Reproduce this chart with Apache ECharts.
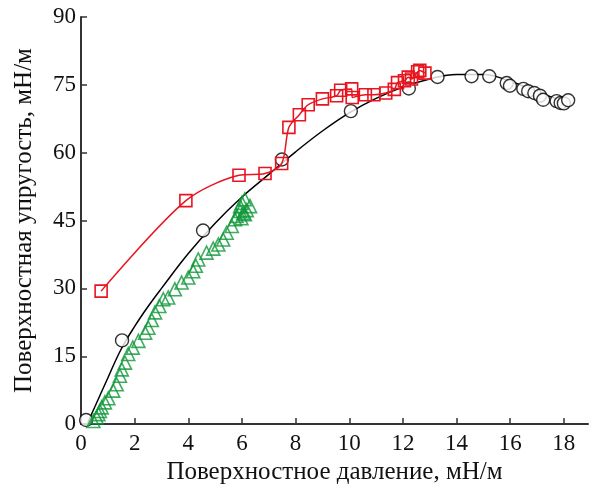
<!DOCTYPE html>
<html>
<head>
<meta charset="utf-8">
<script src="https://cdn.jsdelivr.net/npm/echarts@6/dist/echarts.min.js"></script>
<style>
  html, body { margin: 0; padding: 0; background: #fff; }
  #chart { width: 591px; height: 490px; }
</style>
</head>
<body>
<div id="chart"></div>
<script>
// Measured points: surface pressure (mN/m) vs surface elasticity (mN/m)
const blackX = [0.19, 1.53, 4.55, 7.49, 10.06, 12.22, 13.29, 14.56, 15.22, 15.87, 15.99, 16.49, 16.67, 16.9, 17.11, 17.23, 17.73, 17.88, 18.0, 18.16];
const blackY = [0.9, 18.5, 42.8, 58.5, 69.2, 74.2, 76.75, 76.9, 76.9, 75.4, 74.8, 74.1, 73.6, 73.2, 72.6, 71.7, 71.4, 71.0, 70.9, 71.6];

// Smooth trend drawn through the black points
const fitX = [0.25, 1.0, 1.5, 2.0, 2.5, 3.0, 4.0, 5.0, 6.0, 7.0, 8.0, 9.0, 10.0, 11.0, 12.0, 13.0, 14.0, 15.0, 16.0, 17.0, 18.0];
const fitY = [0.3, 10.2, 16.6, 21.6, 26.0, 30.0, 37.7, 44.4, 50.2, 55.2, 60.2, 64.8, 68.8, 72.0, 74.5, 76.3, 77.3, 77.3, 75.8, 73.5, 71.3];

const redX = [0.75, 3.91, 5.89, 6.86, 7.48, 7.75, 8.14, 8.47, 9.0, 9.53, 9.68, 10.09, 10.11, 10.6, 10.92, 11.36, 11.68, 11.8, 12.06, 12.2, 12.32, 12.55, 12.63, 12.82];
const redY = [29.4, 49.4, 55.0, 55.4, 57.6, 65.6, 68.4, 70.6, 71.9, 72.6, 73.8, 74.1, 72.2, 72.8, 72.8, 73.2, 74.0, 75.5, 75.9, 76.7, 76.3, 77.9, 78.2, 77.6];

const greenX = [0.46, 0.58, 0.65, 0.7, 0.77, 0.89, 1.02, 1.2, 1.33, 1.45, 1.52, 1.64, 1.76, 1.93, 2.14, 2.39, 2.51, 2.64, 2.76, 2.92, 3.07, 3.25, 3.5, 3.75, 4.0, 4.18, 4.28, 4.37, 4.68, 4.93, 5.12, 5.3, 5.43, 5.62, 5.74, 5.8, 5.93, 5.93, 5.98, 6.05, 6.11, 6.11, 6.18, 6.0, 6.3];
const greenY = [0.7, 1.5, 2.2, 2.9, 3.7, 4.8, 5.7, 7.4, 8.8, 10.7, 12.1, 13.6, 15.5, 16.9, 18.4, 20.2, 21.3, 23.0, 24.7, 26.1, 27.6, 28.0, 29.8, 31.3, 32.4, 33.8, 35.0, 36.4, 37.9, 38.8, 39.7, 40.8, 42.3, 43.8, 45.3, 46.0, 47.1, 48.2, 45.5, 46.7, 46.4, 49.7, 47.3, 48.9, 48.2];

const xTicks = [0, 2, 4, 6, 8, 10, 12, 14, 16, 18];
const yTicks = [0, 15, 30, 45, 60, 75, 90];

const pairs = (xs, ys) => xs.map((x, i) => [x, ys[i]]);

const FONT = 'Liberation Serif';
const AXIS_COLOR = '#333333';

const chart = echarts.init(document.getElementById('chart'), null, { renderer: 'canvas' });
chart.setOption({
  animation: false,
  backgroundColor: '#ffffff',
  grid: { left: 81, right: 3, top: 17, bottom: 65, containLabel: false },
  xAxis: {
    type: 'value',
    min: 0,
    max: 18.9,
    name: 'Поверхностное давление, мН/м',
    nameLocation: 'middle',
    nameGap: 32,
    nameTextStyle: { fontFamily: FONT, fontSize: 25, color: '#111', verticalAlign: 'top' },
    axisLine: { show: true, lineStyle: { color: AXIS_COLOR, width: 2 } },
    axisTick: { show: true, inside: true, length: 6, customValues: xTicks, lineStyle: { color: AXIS_COLOR, width: 1.5 } },
    axisLabel: { customValues: xTicks, fontFamily: FONT, fontSize: 23, color: '#111', margin: 8 },
    splitLine: { show: false }
  },
  yAxis: {
    type: 'value',
    min: 0,
    max: 90,
    name: 'Поверхностная упругость, мН/м',
    nameLocation: 'middle',
    nameGap: 44,
    nameTextStyle: { fontFamily: FONT, fontSize: 25, color: '#111' },
    axisLine: { show: true, lineStyle: { color: AXIS_COLOR, width: 2 } },
    axisTick: { show: true, inside: true, length: 6, customValues: yTicks, lineStyle: { color: AXIS_COLOR, width: 1.5 } },
    axisLabel: { customValues: yTicks, fontFamily: FONT, fontSize: 23, color: '#111', margin: 5 },
    splitLine: { show: false }
  },
  series: [
    {
      name: 'fit',
      type: 'line',
      data: pairs(fitX, fitY),
      smooth: 0.4,
      showSymbol: false,
      symbol: 'none',
      lineStyle: { color: '#000', width: 1.5 },
      z: 2
    },
    {
      name: 'red',
      type: 'line',
      data: pairs(redX, redY),
      smooth: 0.3,
      symbol: 'rect',
      symbolSize: 12,
      lineStyle: { color: '#e8141f', width: 1.5 },
      itemStyle: { color: 'rgba(255,255,255,0)', borderColor: '#e8141f', borderWidth: 1.6 },
      z: 4
    },
    {
      name: 'black',
      type: 'scatter',
      data: pairs(blackX, blackY),
      symbol: 'circle',
      symbolSize: 13,
      itemStyle: { color: '#ffffff', borderColor: '#000', borderWidth: 1.4 },
      z: 3
    },
    {
      name: 'green',
      type: 'scatter',
      data: pairs(greenX, greenY),
      symbol: 'triangle',
      symbolSize: 13,
      itemStyle: { color: 'rgba(255,255,255,0)', borderColor: '#10973a', borderWidth: 1.6 },
      z: 5
    }
  ]
});
</script>
</body>
</html>
